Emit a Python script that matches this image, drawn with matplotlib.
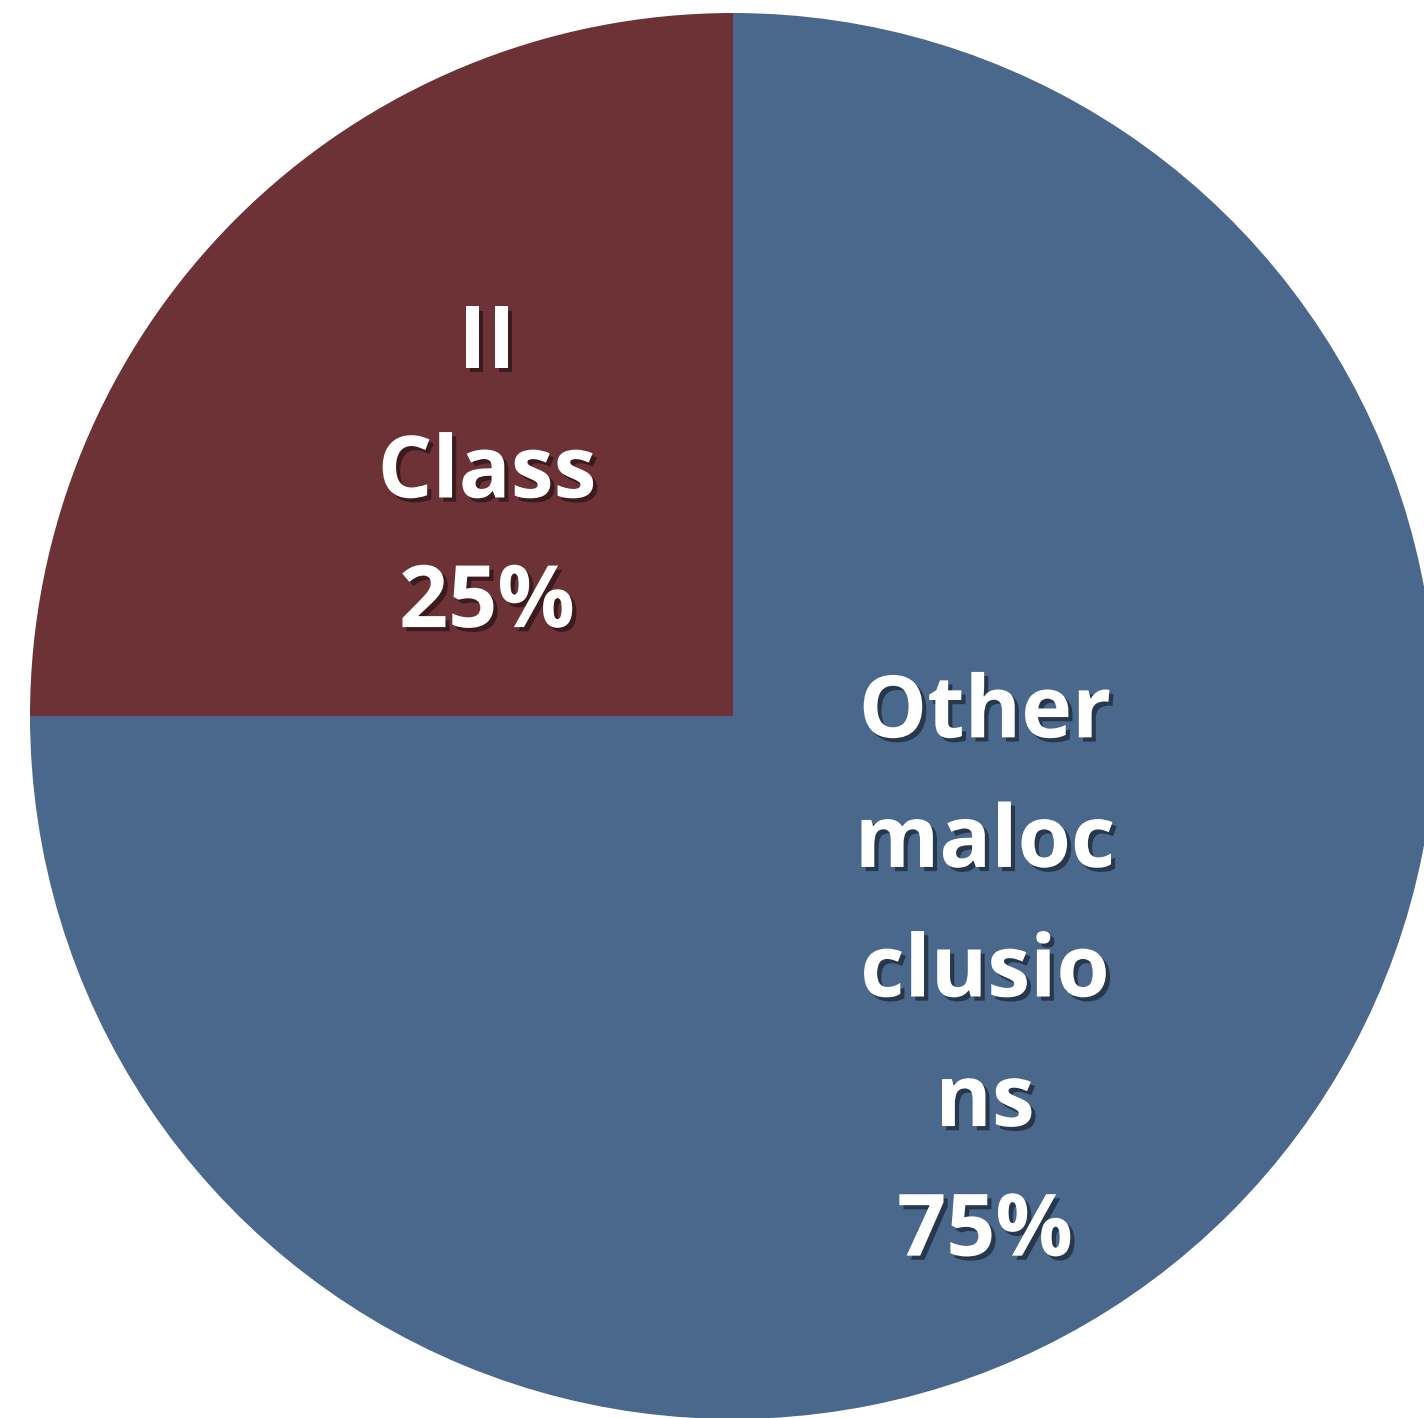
import matplotlib.pyplot as plt
import matplotlib.patheffects as pe

labels = ['II\nClass\n25%', 'Other\nmaloc\nclusio\nns\n75%']
values = [25, 75]
colors = ['#6d3236', '#4a678c']

W, H = 1424, 1418
fig = plt.figure(figsize=(W / 100, H / 100), dpi=100)
ax = fig.add_axes([0, 0, 1, 1])

wedges, _ = ax.pie(values, colors=colors, startangle=90, counterclock=True,
                   center=(733, H - 716), radius=703, frame=True,
                   wedgeprops=dict(linewidth=0))
ax.set_xlim(0, W)
ax.set_ylim(0, H)
ax.set_aspect('equal')
ax.axis('off')

# soft drop shadow behind the white labels
shadow = [pe.SimplePatchShadow(offset=(3, -3), shadow_rgbFace='black', alpha=0.45),
          pe.Normal()]
txt = dict(ha='center', va='center', color='white', fontsize=62,
           fontweight='bold', family='Open Sans', linespacing=1.645,
           path_effects=shadow)
ax.text(487, H - 475, labels[0], **txt)
ax.text(985, H - 974, labels[1], **txt)

fig.savefig('out.png', dpi=100)
